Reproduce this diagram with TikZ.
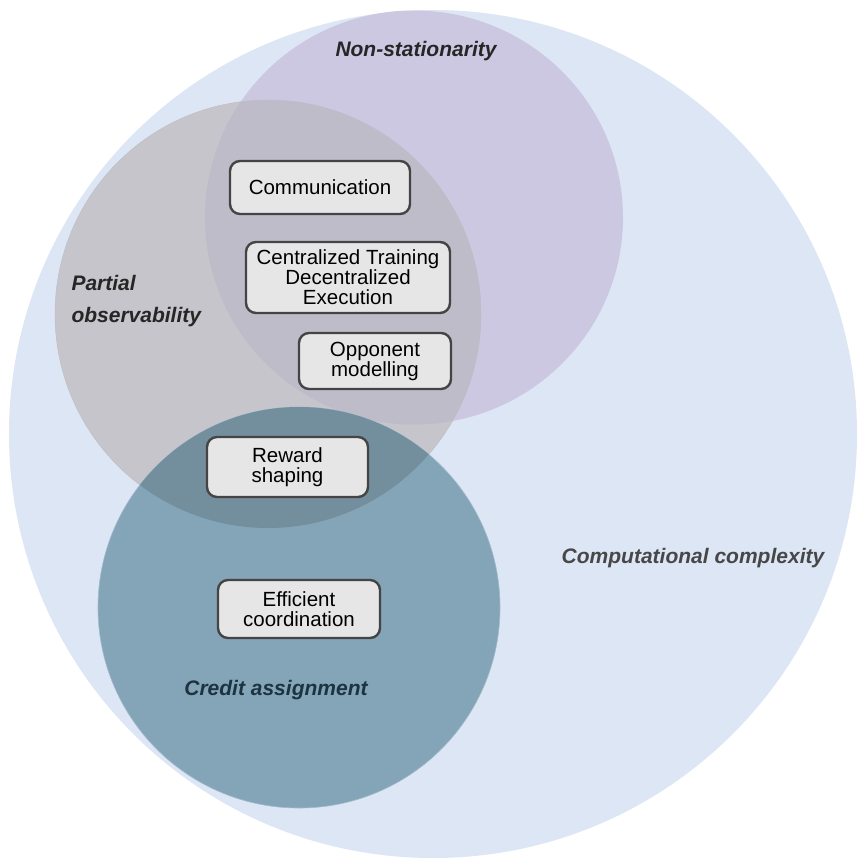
\documentclass[tikz,border=0pt]{standalone}
\usepackage{fontspec}
\setmainfont{Liberation Sans}
\usepackage{tikz}
\usetikzlibrary{positioning}
\definecolor{cplxblue}{RGB}{220,230,245}
\definecolor{nonstat}{RGB}{205,200,226}
\definecolor{partobs}{RGB}{197,197,203}
\definecolor{obsnon}{RGB}{190,188,201}
\definecolor{credit}{RGB}{132,164,184}
\definecolor{creditobs}{RGB}{115,143,157}
\definecolor{boxfill}{RGB}{230,230,230}
\definecolor{boxline}{RGB}{68,68,68}
\definecolor{creditlabel}{RGB}{28,52,66}

\tikzset{
  method/.style={draw=boxline, fill=boxfill, line width=2.4pt, rounded corners=10pt,
    align=center, inner sep=0pt, font=\fontsize{20.5}{20}\selectfont},
  challenge/.style={font=\fontsize{21}{32}\selectfont\bfseries\itshape}
}

\begin{document}
\begin{tikzpicture}[x=1pt,y=-1pt]
  \useasboundingbox (0,0) rectangle (856,858);
  \fill[white] (0,0) rectangle (856,858);

  \fill[cplxblue] (433,434) ellipse [x radius=424, y radius=424];
  \fill[nonstat] (414,217.5) ellipse [x radius=209, y radius=207];
  \filldraw[fill=partobs, draw=partobs!96!black, line width=0.4pt] (268,314) ellipse [x radius=213, y radius=214];
  \begin{scope}
    \clip (268,314) ellipse [x radius=213, y radius=214];
    \fill[obsnon] (414,217.5) ellipse [x radius=209, y radius=207];
  \end{scope}
  \filldraw[fill=credit, draw=credit!75!white, line width=0.6pt] (299,607.5) ellipse [x radius=201, y radius=200.5];
  \begin{scope}
    \clip (268,314) ellipse [x radius=213, y radius=214];
    \fill[creditobs] (299,607.5) ellipse [x radius=201, y radius=200.5];
  \end{scope}

  \node[challenge, text=black!85] (nonstationarity) at (416,51) {Non-stationarity};
  \node[challenge, text=black!85, align=left, anchor=west] (partial) at (68,301) {Partial\\observability};
  \node[challenge, text=black!72] (complexity) at (693,558) {Computational complexity};
  \node[challenge, text=creditlabel] (creditassign) at (276,690) {Credit assignment};

  \node[method, minimum width=180pt, minimum height=53pt] (communication) at (320,187.5) {Communication};
  \node[method, minimum width=204pt, minimum height=71pt] (ctde) at (348,277.5) {Centralized Training\\Decentralized\\Execution};
  \node[method, minimum width=152pt, minimum height=56pt] (opponent) at (375,361) {Opponent\\modelling};
  \node[method, minimum width=161pt, minimum height=60pt] (reward) at (287.5,467) {Reward\\shaping};
  \node[method, minimum width=162pt, minimum height=58pt] (efficient) at (299,609) {Efficient\\coordination};
\end{tikzpicture}
\end{document}
